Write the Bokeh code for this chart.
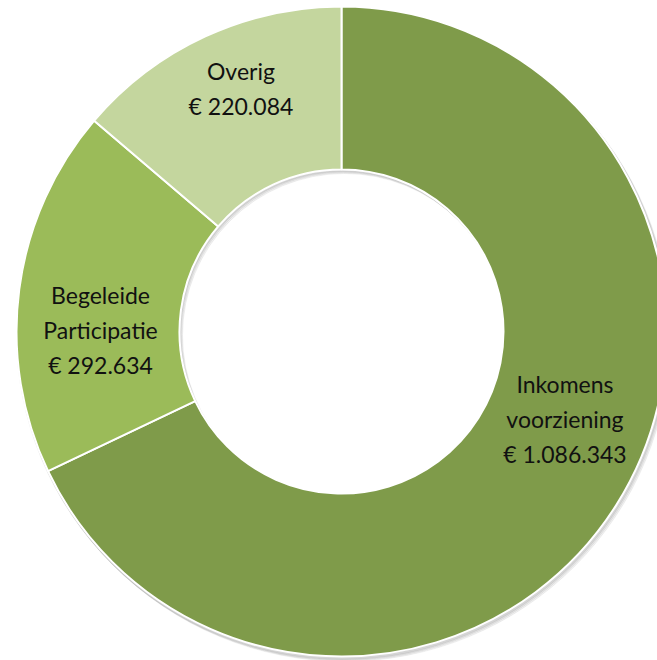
import math
from bokeh.plotting import figure
from bokeh.models import ColumnDataSource, Range1d
from bokeh.core.properties import value
from bokeh.embed import file_html
from bokeh.resources import INLINE

# Data
categories = ["Inkomens\nvoorziening", "Begeleide\nParticipatie", "Overig"]
amounts = [1086343, 292634, 220084]
amount_labels = ["€ 1.086.343", "€ 292.634", "€ 220.084"]
colors = ["#7F9B4A", "#9BBB59", "#C4D69E"]

W, H = 657, 660
cx, cy = 341, H - 331
r_out, r_in = 325, 162

total = sum(amounts)
starts, ends, mids = [], [], []
cum = 0
for a in amounts:
    s = math.pi / 2 - 2 * math.pi * cum / total
    cum += a
    e = math.pi / 2 - 2 * math.pi * cum / total
    starts.append(s)
    ends.append(e)
    mids.append((s + e) / 2)

src = ColumnDataSource(dict(start=starts, end=ends, color=colors))

p = figure(width=W, height=H, x_range=Range1d(0, W), y_range=Range1d(0, H),
           output_backend="svg", toolbar_location=None, min_border=0)
p.axis.visible = False
p.grid.visible = False
p.outline_line_color = None
p.background_fill_color = "white"

# soft shadow
for dx, dy, al in [(3, -4, 0.10), (2, -3, 0.12), (1, -2, 0.15)]:
    p.annular_wedge(x=cx + dx, y=cy + dy, inner_radius=r_in, outer_radius=r_out + 1,
                    start_angle=0, end_angle=2 * math.pi, color="#808080", alpha=al)

p.annular_wedge(x=cx, y=cy, inner_radius=r_in, outer_radius=r_out,
                start_angle="start", end_angle="end", direction="clock",
                fill_color="color", line_color="white", line_width=2, source=src)

# labels (layout adjustments per slice: angle offset in degrees, radius)
adj_deg = [10.9, 7.2, -2.3]
label_r = [240, 241, 263]
lx, ly, ltxt = [], [], []
for i in range(len(amounts)):
    ang = mids[i] + math.radians(adj_deg[i])
    lx.append(cx + label_r[i] * math.cos(ang))
    ly.append(cy + label_r[i] * math.sin(ang))
    ltxt.append(categories[i] + "\n" + amount_labels[i])

p.text(x=lx, y=ly, text=ltxt, text_align="center", text_baseline="middle",
       text_font=value("Lato"), text_font_size="23px", text_color="#111111",
       text_line_height=1.26)

open("out.html", "w").write(file_html(p, INLINE))
